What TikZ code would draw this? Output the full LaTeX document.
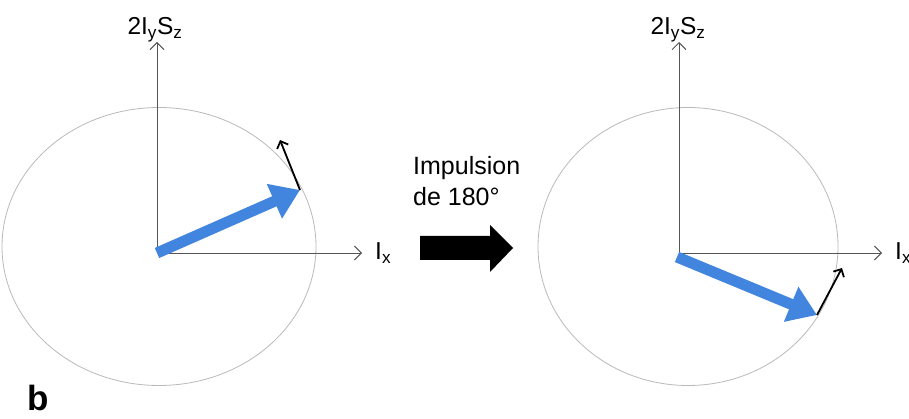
\documentclass[tikz,border=0pt]{standalone}
\usepackage{fontspec}
\setmainfont{Liberation Sans}
\usepackage{xcolor}
\usetikzlibrary{arrows.meta,positioning,calc}
\definecolor{vecblue}{RGB}{66,133,222}
\definecolor{axisgray}{RGB}{85,85,85}
\definecolor{ringgray}{RGB}{185,185,185}
\tikzset{
  axisline/.style={draw=axisgray, line width=0.9pt, -{Straight Barb[length=7pt,width=14pt]}},
  ring/.style={draw=ringgray, line width=0.8pt},
  magvec/.style={draw=vecblue, line width=11pt, -{Triangle[length=28pt,width=36pt]}},
  driftvec/.style={draw=black, line width=1.8pt, -{Straight Barb[length=6pt,width=12pt]}},
  axlbl/.style={font=\fontsize{24.5}{28}\selectfont, inner sep=0pt},
  pulselbl/.style={font=\fontsize{25}{30}\selectfont, align=left, inner sep=0pt},
}

\begin{document}
\begin{tikzpicture}[x=1pt,y=1pt]
  \useasboundingbox (0,0) rectangle (909,419);
  % left frame: before the pulse
  \coordinate (oa) at (157,166);
  \coordinate (za) at (157,377);
  \coordinate (xa) at (362,166);
  \draw[ring] (159,172.5) ellipse [x radius=157, y radius=139];
  \draw[axisline] (oa) -- (za);
  \draw[axisline] (oa) -- (xa);
  \node[axlbl, anchor=base] (lza) at (155,384) {2I\textsubscript{y}S\textsubscript{z}};
  \node[axlbl, anchor=base west] (lxa) at (375,159) {I\textsubscript{x}};
  \coordinate (ma) at (300,229);
  \coordinate (da) at (280,279);
  \draw[magvec] (oa) -- (ma);
  \draw[driftvec] (ma) -- (da);
  % pulse
  \node[pulselbl, anchor=base west] (pulse) at (413,213) {Impulsion\\[1pt]de 180°};
  \fill (420,159) -- (490,159) -- (490,147) -- (513,171) -- (490,194) -- (490,183) -- (420,183) -- cycle;
  % right frame: after the pulse
  \coordinate (ob) at (679,166);
  \coordinate (zb) at (679,377);
  \coordinate (xb) at (882,166);
  \draw[ring] (688,172.5) ellipse [x radius=150, y radius=139];
  \draw[axisline] (ob) -- (zb);
  \draw[axisline] (ob) -- (xb);
  \node[axlbl, anchor=base] (lzb) at (678,384) {2I\textsubscript{y}S\textsubscript{z}};
  \node[axlbl, anchor=base west] (lxb) at (895,159) {I\textsubscript{x}};
  \coordinate (tb) at (677,162);
  \coordinate (mb) at (817,104);
  \coordinate (db) at (842,151);
  \draw[magvec] (tb) -- (mb);
  \draw[driftvec] (mb) -- (db);
  % panel letter
  \node[font=\fontsize{35}{40}\selectfont\bfseries, anchor=base west, inner sep=0pt] (panel) at (27,8) {b};
\end{tikzpicture}
\end{document}
